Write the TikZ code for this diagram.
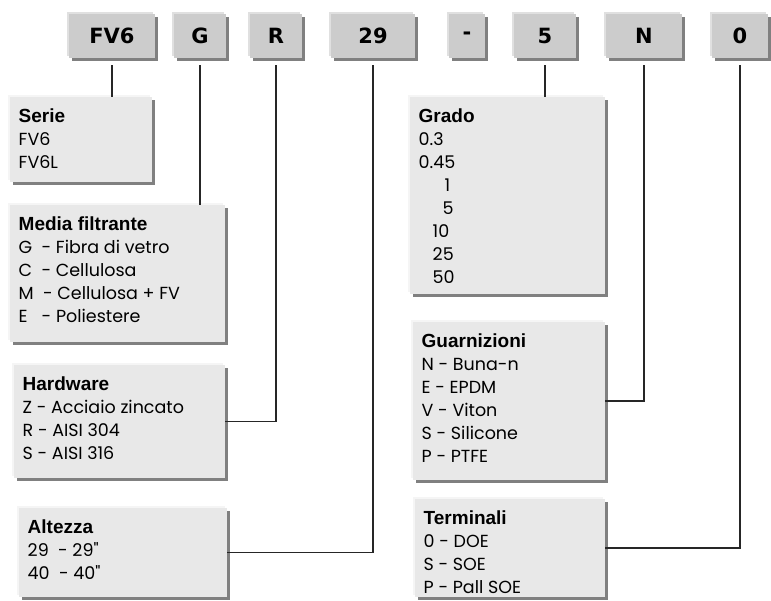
\documentclass[tikz,border=0pt]{standalone}
\usepackage{fontspec}
\setmainfont{Poppins}
\newfontfamily\headfont{Liberation Sans}
\newfontfamily\codefont{DejaVu Sans}
\usetikzlibrary{shadows}

\begin{document}
\begin{tikzpicture}[x=1pt,y=-1pt,
	codebox/.style={fill=black!20,minimum height=44,inner sep=0,outer sep=0,
		font=\codefont\bfseries\fontsize{21}{23}\selectfont,
		general shadow={fill=black!50,shadow xshift=3pt,shadow yshift=-3pt},
		general shadow={fill=black!12,shadow xshift=-2pt,shadow yshift=2pt}},
	infobox/.style={fill=black!9,inner sep=0,outer sep=0,anchor=north west,
		general shadow={fill=black!50,shadow xshift=3pt,shadow yshift=-3pt},
		general shadow={fill=black!4,shadow xshift=-2pt,shadow yshift=2pt}},
	infotext/.style={anchor=north west,inner sep=0,align=left,
		font=\fontsize{17.5}{23}\selectfont},
	link/.style={draw=black!85,line width=1.1pt}]
	\useasboundingbox (0,0) rectangle (771,600);

	% codice
	\foreach \n/\x/\w/\t in {fv6/112/86/FV6,g/200/52/G,r/276/52/R,c29/373/84/29,hyph/467/36/-,c5/545/62/5,n/644/76/N,c0/740/56/0}
		{ \node[codebox,minimum width=\w] (\n) at (\x,36) {\t}; }

	% riquadri
	\node[infobox,minimum width=142,minimum height=85] (serie) at (10,97) {};
	\node[infobox,minimum width=215,minimum height=137] (media) at (10,205) {};
	\node[infobox,minimum width=211,minimum height=113] (hardware) at (14,365) {};
	\node[infobox,minimum width=208,minimum height=89] (altezza) at (19,508) {};
	\node[infobox,minimum width=195,minimum height=197] (grado) at (410,97) {};
	\node[infobox,minimum width=192,minimum height=158] (guarn) at (413,322) {};
	\node[infobox,minimum width=190,minimum height=98] (term) at (415,499) {};

	\newcommand{\hd}[1]{{\headfont\bfseries\fontsize{19}{23}\selectfont #1}}
	\node[infotext] (serietxt) at ([shift={(8.5,12)}]serie.north west)
		{\hd{Serie}\\FV6\\FV6L};
	\node[infotext] (mediatxt) at ([shift={(8.5,12)}]media.north west)
		{\hd{Media filtrante}\\G\ \ - Fibra di vetro\\C\ \ - Cellulosa\\M\ \ - Cellulosa + FV\\E\ \ \ - Poliestere};
	\node[infotext] (hardwaretxt) at ([shift={(8.5,12)}]hardware.north west)
		{\hd{Hardware}\\Z - Acciaio zincato\\R - AISI 304\\S - AISI 316};
	\node[infotext] (altezzatxt) at ([shift={(8.5,12)}]altezza.north west)
		{\hd{Altezza}\\29\ \ - 29\textquotedbl\\40\ \ - 40\textquotedbl};
	\node[infotext] (gradotxt) at ([shift={(8.5,12)}]grado.north west)
		{\hd{Grado}\\0.3\\0.45\\\hspace*{26pt}1\\\hspace*{24pt}5\\\hspace*{14pt}10\\\hspace*{14pt}25\\\hspace*{14pt}50};
	\node[infotext] (guarntxt) at ([shift={(8.5,12)}]guarn.north west)
		{\hd{Guarnizioni}\\N - Buna-n\\E - EPDM\\V - Viton\\S - Silicone\\P - PTFE};
	\node[infotext] (termtxt) at ([shift={(8.5,12)}]term.north west)
		{\hd{Terminali}\\0 - DOE\\S - SOE\\P - Pall SOE};

	% collegamenti
	\draw[link,shorten <=7pt] (fv6.south) -- (fv6.south |- serie.north);
	\draw[link,shorten <=7pt] (g.south) -- (g.south |- media.north);
	\draw[link,shorten <=7pt] (r.south) |- (hardware.east);
	\draw[link,shorten <=7pt] (c29.south) |- (altezza.east);
	\draw[link,shorten <=7pt] (c5.south) -- (c5.south |- grado.north);
	\draw[link,shorten <=7pt] (n.south) |- (guarn.east);
	\draw[link,shorten <=7pt] (c0.south) |- (term.east);
\end{tikzpicture}
\end{document}
